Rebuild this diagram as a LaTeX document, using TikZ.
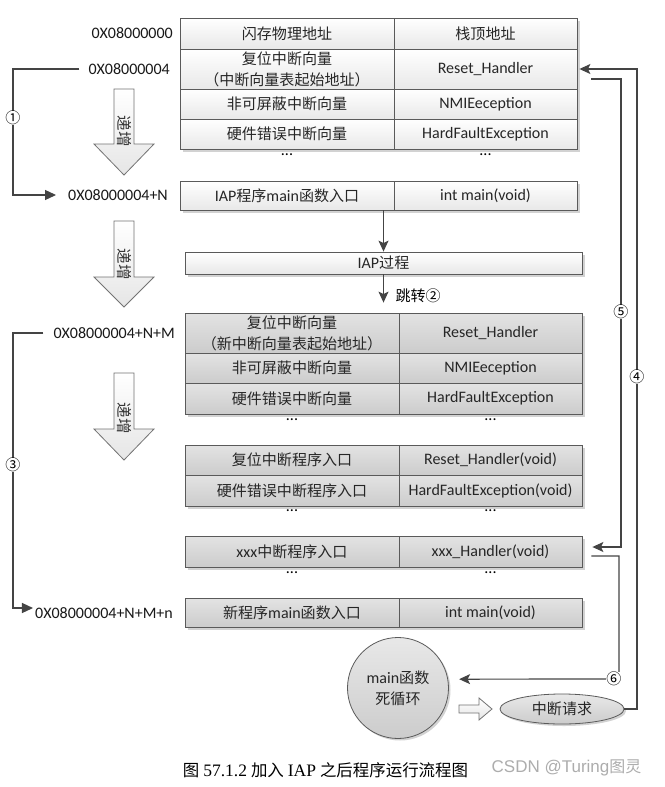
\documentclass[tikz,border=0pt]{standalone}
\usepackage{fontspec}
\setmainfont{Carlito}
\newfontfamily\cjk[Scale=0.94]{Noto Sans CJK SC}
\newfontfamily\capserif{Liberation Serif}
\newfontfamily\wmsans{Liberation Sans}
\newcommand\zh[1]{{\cjk #1}}
\usetikzlibrary{arrows.meta,shadows,shapes.geometric}
\definecolor{edge}{HTML}{5A5A5A}
\definecolor{linec}{HTML}{444444}
\begin{document}
\begin{tikzpicture}[x=1pt,y=-1pt, font=\fontsize{16}{21}\selectfont,
  cellbase/.style={draw=edge, line width=0.8pt, inner sep=0pt, align=center, text=black!85,
    drop shadow={shadow xshift=2.5pt,shadow yshift=-2.5pt,fill=black!35,opacity=0.5}},
  topcell/.style={cellbase, top color=white, bottom color=black!9},
  lowcell/.style={cellbase, top color=black!11, bottom color=black!20},
  wl/.style={minimum width=214pt},
  wr/.style={minimum width=183pt},
  addr/.style={anchor=east, inner sep=0pt, text=black!90},
  dots/.style={anchor=base, inner sep=0pt},
  conn/.style={draw=linec, line width=1.2pt},
  tri/.style={-{Triangle[length=11pt,width=10pt]}},
  stl/.style={-{Stealth[length=11pt,width=10pt,inset=2.5pt]}},
  circ/.style={fill=white, inner sep=0.3pt, font=\fontsize{16}{16}\selectfont\cjk},
  incarrow/.style={draw=black!55, line width=0.8pt, top color=white, bottom color=black!10},
  inctext/.style={rotate=-90, inner sep=0pt, font=\fontsize{16.5}{16.5}\selectfont\cjk, text=black!80},
  roundish/.style={draw=edge, line width=0.8pt, inner sep=0pt, align=center, text=black!85,
    top color=black!9, bottom color=black!20,
    drop shadow={shadow xshift=2pt,shadow yshift=-2pt,fill=black!35,opacity=0.5}}
]
\fill[white] (0,0) rectangle (664,787);
\useasboundingbox (0,0) rectangle (664,787);

% ---------- top table ----------
\node[topcell,wl,minimum height=31pt] (a1L) at (287,33.5) {\zh{闪存物理地址}};
\node[topcell,wr,minimum height=31pt] (a1R) at (485.5,33.5) {\zh{栈顶地址}};
\node[topcell,wl,minimum height=40pt] (a2L) at (287,69) {\zh{复位中断向量}\\\zh{（中断向量表起始地址）}};
\node[topcell,wr,minimum height=40pt] (a2R) at (485.5,69) {Reset\_Handler};
\node[topcell,wl,minimum height=30pt] (a3L) at (287,104) {\zh{非可屏蔽中断向量}};
\node[topcell,wr,minimum height=30pt] (a3R) at (485.5,104) {NMIEeception};
\node[topcell,wl,minimum height=30pt] (a4L) at (287,134) {\zh{硬件错误中断向量}};
\node[topcell,wr,minimum height=30pt] (a4R) at (485.5,134) {HardFaultException};
\node[dots] (a5L) at (287,155) {...};
\node[dots] (a5R) at (485.5,155) {...};
\node[topcell,wl,minimum height=29pt] (mainL) at (287,195.5) {IAP\zh{程序}main\zh{函数入口}};
\node[topcell,wr,minimum height=29pt] (mainR) at (485.5,195.5) {int main(void)};

% ---------- IAP process ----------
\node[topcell,minimum width=397pt,minimum height=22pt] (iap) at (383.5,263) {IAP\zh{过程}};
\node[anchor=west] (jump) at (392,296) {\zh{跳转②}};

% ---------- lower table ----------
\node[lowcell,wl,minimum height=40pt] (b1L) at (292,333) {\zh{复位中断向量}\\\zh{（新中断向量表起始地址）}};
\node[lowcell,wr,minimum height=40pt] (b1R) at (490.5,333) {Reset\_Handler};
\node[lowcell,wl,minimum height=30pt] (b2L) at (292,368) {\zh{非可屏蔽中断向量}};
\node[lowcell,wr,minimum height=30pt] (b2R) at (490.5,368) {NMIEeception};
\node[lowcell,wl,minimum height=31pt] (b3L) at (292,398.5) {\zh{硬件错误中断向量}};
\node[lowcell,wr,minimum height=31pt] (b3R) at (490.5,398.5) {HardFaultException};
\node[dots] (b4L) at (292,420) {...};
\node[dots] (b4R) at (490.5,420) {...};
\node[lowcell,wl,minimum height=30pt] (c1L) at (292,460) {\zh{复位中断程序入口}};
\node[lowcell,wr,minimum height=30pt] (c1R) at (490.5,460) {Reset\_Handler(void)};
\node[lowcell,wl,minimum height=31pt] (c2L) at (292,490.5) {\zh{硬件错误中断程序入口}};
\node[lowcell,wr,minimum height=31pt] (c2R) at (490.5,490.5) {HardFaultException(void)};
\node[dots] (c3L) at (292,511) {...};
\node[dots] (c3R) at (490.5,511) {...};
\node[lowcell,wl,minimum height=31pt] (x1L) at (292,551.5) {xxx\zh{中断程序入口}};
\node[lowcell,wr,minimum height=31pt] (x1R) at (490.5,551.5) {xxx\_Handler(void)};
\node[dots] (x2L) at (292,573) {...};
\node[dots] (x2R) at (490.5,573) {...};
\node[lowcell,wl,minimum height=29pt] (m1L) at (292,612.5) {\zh{新程序}main\zh{函数入口}};
\node[lowcell,wr,minimum height=29pt] (m1R) at (490.5,612.5) {int main(void)};

% ---------- addresses ----------
\node[addr] (l1) at (173,33) {0X08000000};
\node[addr] (l2) at (170,69) {0X08000004};
\node[addr] (l3) at (168,195) {0X08000004+N};
\node[addr] (l4) at (175,333) {0X08000004+N+M};
\node[addr] (l5) at (173,613) {0X08000004+N+M+n};

% ---------- increment block arrows ----------
\draw[incarrow] (114,89) -- (134,89) -- (134,144) -- (154,144) -- (124,175) -- (94,144) -- (114,144) -- cycle;
\node[inctext] (inc1) at (124,131) {递增};
\draw[incarrow] (114,221) -- (134,221) -- (134,277) -- (154,277) -- (124,307) -- (94,277) -- (114,277) -- cycle;
\node[inctext] (inc2) at (124,264) {递增};
\draw[incarrow] (114,373) -- (134,373) -- (134,429) -- (154,429) -- (124,460) -- (94,429) -- (114,429) -- cycle;
\node[inctext] (inc3) at (124,418) {递增};

% ---------- main loop and interrupt ----------
\node[roundish,circle,minimum size=101pt] (loop) at (398,688) {main\zh{函数}\\\zh{死循环}};
\node[roundish,ellipse,minimum width=124pt,minimum height=30pt] (intr) at (562,709) {\zh{中断请求}};
\draw[incarrow] (459,705) -- (479,705) -- (479,698) -- (492,709) -- (479,720) -- (479,713) -- (459,713) -- cycle;

% ---------- connectors ----------
\draw[conn,stl] (iap.north |- mainL.south) -- (iap.north);
\draw[conn,stl,shorten >=10pt] (iap.south) -- (iap.south |- b1L.north);

\draw[conn,tri] ([xshift=-9pt]l2.west) -| (13,118) node[circ] (n1) {①} |- ([xshift=-12pt]l3.west);
\draw[conn,tri] ([xshift=-10pt]l4.west) -| (13,465) node[circ] (n3) {③} |- ([xshift=-2pt,yshift=5pt]l5.west);

\draw[conn,stl] (intr.east) -| (637,377) node[circ] (n4) {④} |- ([xshift=2pt]a2R.east);
\draw[conn,stl] ([xshift=14pt,yshift=-10pt]a2R.east) -| (621,312) node[circ] (n5) {⑤} |- ([xshift=10pt,yshift=4.5pt]x1R.east);
\draw[conn,stl] ([xshift=9pt,yshift=-4.5pt]x1R.east) -| (619,679) node[circ,xshift=-5pt] (n6) {⑥} -- ([xshift=11pt]loop.10);

% ---------- caption ----------
\node (cap) at (325.5,770) {\fontsize{17.5}{20}\selectfont\zh{图} {\capserif 57.1.2} \zh{加入} {\capserif IAP} \zh{之后程序运行流程图}};
\node[text=black!32] (wm) at (566.5,768) {\fontsize{17}{20}\selectfont\wmsans CSDN @Turing\zh{图灵}};
\end{tikzpicture}
\end{document}
